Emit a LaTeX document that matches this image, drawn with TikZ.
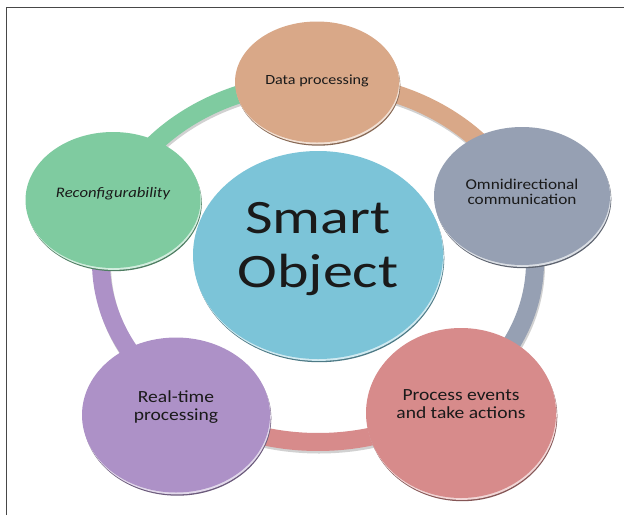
\documentclass[tikz,border=0pt]{standalone}
\usepackage{fontspec}
\setmainfont[FakeStretch=1.15]{Carlito}
\newfontfamily\bigfont[FakeStretch=1.25]{Carlito}
\usetikzlibrary{shapes.geometric,shadows,calc}
\definecolor{cCyan}{HTML}{7CC4D8}
\definecolor{cOrange}{HTML}{D9A888}
\definecolor{cGray}{HTML}{96A0B3}
\definecolor{cRed}{HTML}{D78B8B}
\definecolor{cPurple}{HTML}{AD91C7}
\definecolor{cGreen}{HTML}{7FCBA0}
\definecolor{txt}{HTML}{1A1A1A}
\newcommand\liftup[2]{\raisebox{#1}[\height][\depth]{\begin{tabular}{@{}c@{}}#2\end{tabular}}}
\tikzset{
  bubble/.style={ellipse, inner sep=0pt, fill=#1, text=txt,
    general shadow={fill=#1!62!black, shadow xshift=1.3pt, shadow yshift=-3.2pt},
    general shadow={fill=#1!35!white, shadow xshift=0.8pt, shadow yshift=-1.9pt}},
  ringseg/.style={draw=#1, line width=18pt},
  ringshadow/.style={draw=black!18, line width=18pt},
  frameline/.style={draw=black!72, line width=1.3pt}
}
\begin{document}
\begin{tikzpicture}[x=1pt,y=-1pt]
\useasboundingbox (0,0) rectangle (624,515);
\fill[white] (0,0) rectangle (624,515);
\draw[frameline] (6.5,515) -- (6.5,7.5) -- (624,7.5);

% ring
\coordinate (ringc) at (318,262);
\coordinate (pData) at ($(ringc)+(-90:217 and 180)$);
\coordinate (pOmni) at ($(ringc)+(-20.9:217 and 180)$);
\coordinate (pEv)   at ($(ringc)+(52:217 and 180)$);
\coordinate (pRt)   at ($(ringc)+(127.4:217 and 180)$);
\coordinate (pRc)   at ($(ringc)+(200:217 and 180)$);
\coordinate (ringsh) at ($(ringc)+(1,2.5)$);
\draw[ringshadow] (ringsh) ellipse [x radius=217, y radius=180];
\draw[ringseg=cOrange] (pData) arc[start angle=-90, end angle=-20.9, x radius=217, y radius=180];
\draw[ringseg=cGray] (pOmni) arc[start angle=-20.9, end angle=52, x radius=217, y radius=180];
\draw[ringseg=cRed] (pEv) arc[start angle=52, end angle=127.4, x radius=217, y radius=180];
\draw[ringseg=cPurple] (pRt) arc[start angle=127.4, end angle=200, x radius=217, y radius=180];
\draw[ringseg=cGreen] (pRc) arc[start angle=200, end angle=270, x radius=217, y radius=180];

% circles
\node[bubble=cCyan, minimum width=250pt, minimum height=208pt,
      font=\bigfont\fontsize{48}{54}\selectfont] (center) at (318,255) {\liftup{5pt}{Smart\\Object}};
\node[bubble=cOrange, minimum width=164pt, minimum height=121pt,
      font=\fontsize{14}{16}\selectfont] (data) at (317,82) {\liftup{1pt}{Data processing}};
\node[bubble=cGray, minimum width=176pt, minimum height=138pt,
      font=\fontsize{15}{14.5}\selectfont] (omni) at (522,196) {\liftup{2pt}{Omnidirectional\\communication}};
\node[bubble=cRed, minimum width=190pt, minimum height=170pt,
      font=\fontsize{17}{18.5}\selectfont] (events) at (461,413) {\liftup{7pt}{Process events\\and take actions}};
\node[bubble=cPurple, minimum width=188pt, minimum height=155pt,
      font=\fontsize{17}{18.5}\selectfont] (realtime) at (176,415) {\liftup{7pt}{Real-time\\processing}};
\node[bubble=cGreen, minimum width=175pt, minimum height=136pt,
      font=\fontsize{14.5}{16}\selectfont\itshape] (reconf) at (113,200) {\liftup{6pt}{Reconfigurability}};
\end{tikzpicture}
\end{document}
